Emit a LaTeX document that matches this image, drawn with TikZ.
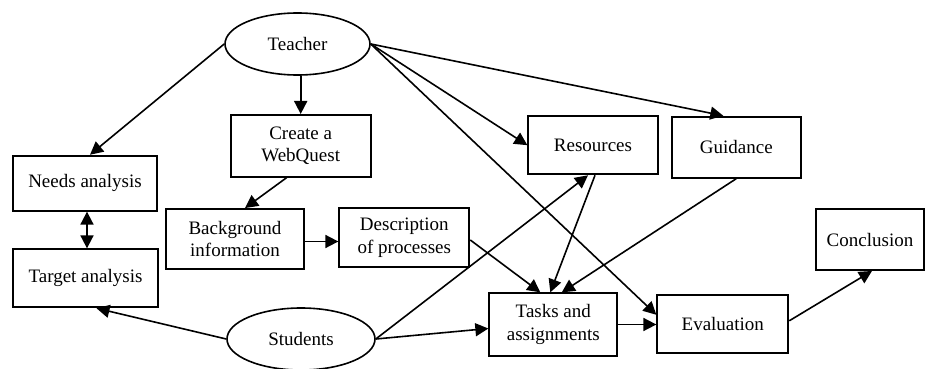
\documentclass[tikz,border=0pt]{standalone}
\usepackage{fontspec}
\setmainfont{Liberation Serif}
\usetikzlibrary{arrows.meta,shapes.geometric}
\begin{document}
\begin{tikzpicture}[x=1pt,y=-1pt,
  box/.style={draw,line width=1.9pt,rectangle,inner sep=0pt,align=center,
    font=\fontsize{19}{22.5}\selectfont},
  oval/.style={draw,line width=1.6pt,ellipse,inner sep=0pt,
    font=\fontsize{19}{22.5}\selectfont},
  arr/.style={line width=1.6pt,-{Triangle[length=13pt,width=13pt]}},
  darr/.style={line width=1.8pt,{Triangle[length=13pt,width=13pt]}-{Triangle[length=13pt,width=13pt]}}]
\useasboundingbox (0,0) rectangle (927,369);
\node[oval,minimum width=145pt,minimum height=62pt] (teacher) at (297.5,44) {Teacher};
\node[oval,minimum width=148pt,minimum height=62pt] (students) at (301,339) {Students};
\node[box,minimum width=144.6pt,minimum height=55pt] (needs) at (85,183.2) {Needs analysis};
\node[box,minimum width=145.6pt,minimum height=58pt] (target) at (85.5,278.3) {Target analysis};
\node[box,minimum width=140pt,minimum height=61.7pt] (create) at (300.7,145.8) {Create a\\WebQuest};
\node[box,minimum width=138pt,minimum height=60pt] (background) at (235,239) {Background\\information};
\node[box,minimum width=130pt,minimum height=58.4pt] (description) at (404.3,237.5) {Description\\of processes};
\node[box,minimum width=129.4pt,minimum height=58.3pt] (resources) at (593,145.2) {Resources};
\node[box,minimum width=128.7pt,minimum height=61pt] (guidance) at (736.3,147.2) {Guidance};
\node[box,minimum width=108pt,minimum height=61pt] (conclusion) at (870,239.5) {Conclusion};
\node[box,minimum width=128pt,minimum height=62.4pt] (tasks) at (553.3,324.5) {Tasks and\\assignments};
\node[box,minimum width=131pt,minimum height=57.7pt] (evaluation) at (722.8,323.8) {Evaluation};

\draw[arr] (teacher.west) -- ([xshift=5pt]needs.north);
\draw[darr,-{Triangle[length=13pt,width=13pt]}] (create.north |- teacher.south) -- (create.north);
\draw[arr] (teacher.east) -- (resources.west);
\draw[arr] (teacher.east) -- ([xshift=-13pt]guidance.north);
\draw[arr] (teacher.east) -- ([yshift=9pt]evaluation.west);
\draw[arr] ([xshift=-14pt]create.south) -- ([xshift=10pt]background.north);
\draw[darr] ([xshift=2pt]needs.south) -- ([xshift=2pt]needs.south |- target.north);
\draw[darr,-{Triangle[length=13pt,width=13pt]}] ([yshift=-2.5pt]background.east) -- ([yshift=-2.5pt]background.east -| description.west);
\draw[arr] ([yshift=-2.5pt]description.east) -- ([xshift=-13pt]tasks.north);
\draw[arr] ([xshift=2pt]resources.south) -- ([xshift=-3pt]tasks.north);
\draw[arr] (guidance.south) -- ([xshift=8.5pt]tasks.north);
\draw[arr] (students.east) -- ([xshift=-5pt]resources.south);
\draw[arr] (students.east) -- ([yshift=-4pt]tasks.west);
\draw[arr] (students.west) -- ([xshift=11pt]target.south);
\draw[darr,-{Triangle[length=13pt,width=13pt]}] (tasks.east) -- (tasks.east -| evaluation.west);
\draw[arr] ([yshift=3pt]evaluation.east) -- ([xshift=2pt]conclusion.south);
\end{tikzpicture}
\end{document}
